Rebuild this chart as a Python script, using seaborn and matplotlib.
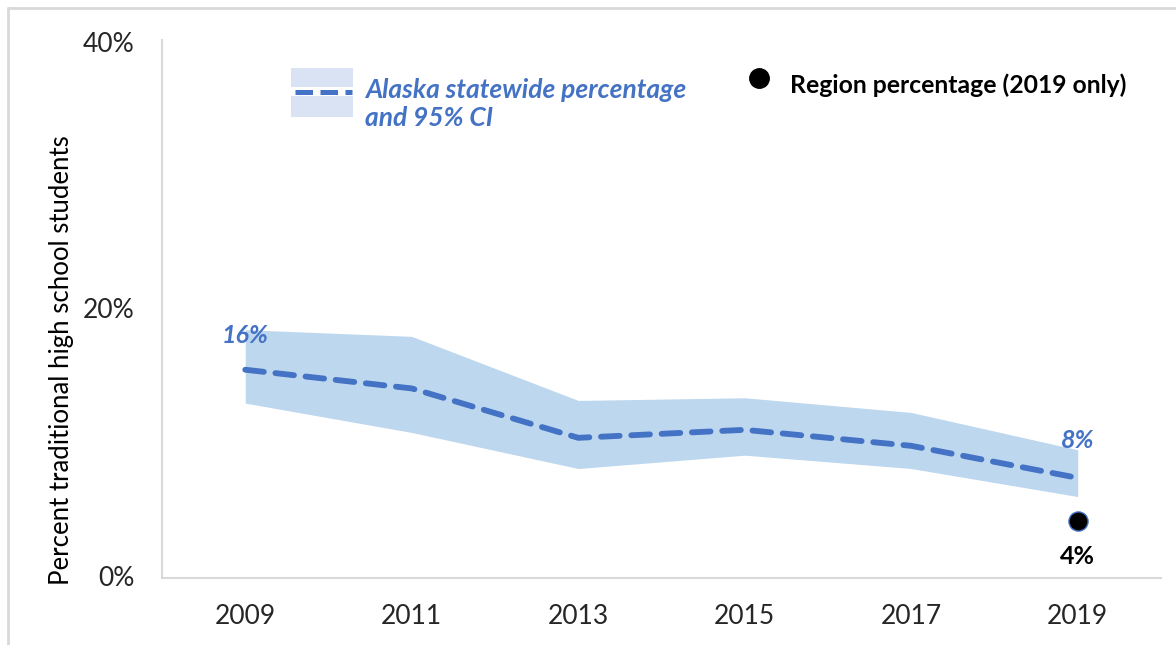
import matplotlib
matplotlib.use("Agg")
import matplotlib.pyplot as plt
import seaborn as sns
import pandas as pd
from matplotlib.lines import Line2D
from matplotlib.patches import Rectangle

years = ["2009", "2011", "2013", "2015", "2017", "2019"]
state_pct = [15.6, 14.2, 10.5, 11.1, 9.9, 7.5]
ci_upper = [18.6, 18.1, 13.3, 13.5, 12.4, 9.6]
ci_lower = [13.1, 10.9, 8.2, 9.2, 8.2, 6.1]
region_year = ["2019"]
region_pct = [4.3]
yticks = [0, 20, 40]

BLUE = "#4472C4"
BAND = "#BDD7EE"
GRID = "#D9D9D9"

sns.set_theme(style="white")
plt.rcParams["font.family"] = ["Lato", "DejaVu Sans"]

fig = plt.figure(figsize=(11.76, 6.45), dpi=100)
ax = fig.add_axes([162/1176, 1-578/645, 999/1176, 534/645])

df = pd.DataFrame({"year": years, "pct": state_pct, "lo": ci_lower, "hi": ci_upper})
df["xi"] = range(len(years))

ax.fill_between(df["xi"], df["lo"], df["hi"], color=BAND, linewidth=0, zorder=1)
sns.lineplot(data=df, x="xi", y="pct", ax=ax, color=BLUE, linewidth=4.2,
             dashes=False, zorder=3, legend=False)
ax.lines[-1].set_dashes([3.2, 2.0])
ax.lines[-1].set_dash_capstyle("round")

rdf = pd.DataFrame({"xi": [years.index(y) for y in region_year], "pct": region_pct})
sns.scatterplot(data=rdf, x="xi", y="pct", ax=ax, color="black", s=190,
                edgecolor=BLUE, linewidth=1.0, zorder=4, legend=False)

# data labels
ax.annotate(f"{round(state_pct[0])}%", (0, state_pct[0]), xytext=(0, 25), textcoords="offset points",
            ha="center", va="center", color=BLUE, fontsize=18, fontweight="bold", style="italic")
ax.annotate(f"{round(state_pct[-1])}%", (5, state_pct[-1]), xytext=(0, 27), textcoords="offset points",
            ha="center", va="center", color=BLUE, fontsize=18, fontweight="bold", style="italic")
ax.annotate(f"{round(region_pct[0])}%", (5, region_pct[0]), xytext=(0, -26), textcoords="offset points",
            ha="center", va="center", color="black", fontsize=18, fontweight="bold")

ax.set_xlim(-0.5, len(years) - 0.5)
ax.set_ylim(0, 40)
ax.set_yticks(yticks)
ax.set_yticklabels([f"{t}%" for t in yticks])
ax.set_xticks(range(len(years)))
ax.set_xticklabels(years)
ax.set_xticks([i - 0.5 for i in range(len(years) + 1)], minor=True)
ax.tick_params(axis="x", which="major", length=0, pad=19, labelsize=19, colors="#262626")
ax.tick_params(axis="x", which="minor", length=10, width=1.5, color=GRID, direction="out")
ax.tick_params(axis="y", length=0, pad=20, labelsize=19, colors="#262626")
for lab in ax.get_yticklabels():
    lab.set_verticalalignment("center")
ax.set_xlabel("")
ax.set_ylabel("Percent traditional high school students", fontsize=18.5, color="black")
ax.yaxis.set_label_coords(-0.088, 0.408)

for s in ["top", "right"]:
    ax.spines[s].set_visible(False)
for s in ["left", "bottom"]:
    ax.spines[s].set_color(GRID)
    ax.spines[s].set_linewidth(1.5)
ax.spines["left"].set_bounds(0, 40.3)

# legend (manual)
tr = ax.transAxes
ax.add_patch(Rectangle((0.129, 0.919), 0.062, 0.036, transform=tr, color="#DAE3F3", lw=0, clip_on=False))
ax.add_patch(Rectangle((0.129, 0.863), 0.062, 0.040, transform=tr, color="#DAE3F3", lw=0, clip_on=False))
ax.add_line(Line2D([0.133, 0.190], [0.910, 0.910], transform=tr, color=BLUE, lw=3.6,
                   dashes=[3.5, 1.5], clip_on=False))
ax.text(0.203, 0.887, "Alaska statewide percentage\nand 95% CI", transform=tr, ha="left", va="center",
        color=BLUE, fontsize=19, fontweight="bold", style="italic", linespacing=1.2)
ax.add_line(Line2D([0.598], [0.936], transform=tr, marker="o", color="black", markersize=14,
                   linestyle="none", clip_on=False))
ax.text(0.629, 0.923, "Region percentage (2019 only)", transform=tr, ha="left", va="center",
        color="black", fontsize=17.8, fontweight="bold")

# outer frame (top and left edges)
fig.add_artist(Line2D([8/1176, 1.0], [1-8/645, 1-8/645], transform=fig.transFigure, color=GRID, lw=2))
fig.add_artist(Line2D([8/1176, 8/1176], [1-8/645, 0], transform=fig.transFigure, color=GRID, lw=2))

fig.savefig("out.png", dpi=100)
